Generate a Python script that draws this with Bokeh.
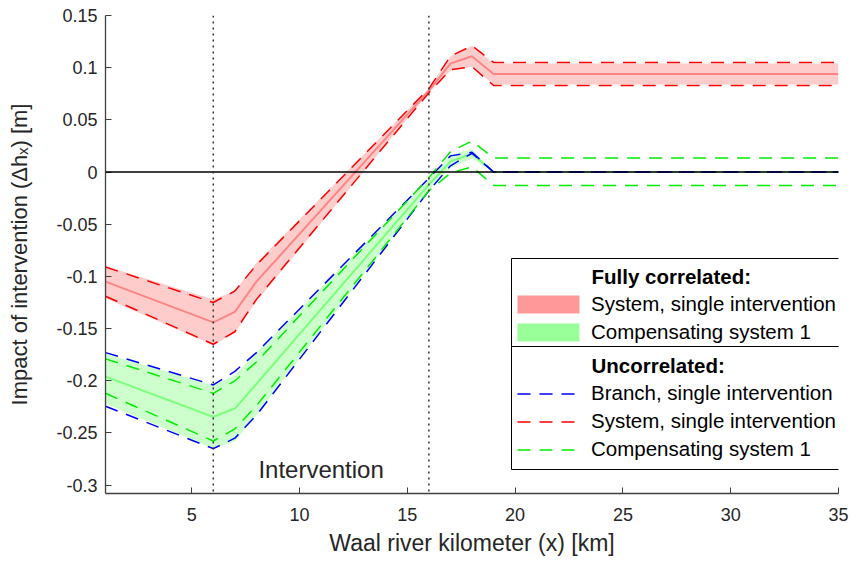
from bokeh.plotting import figure
from bokeh.embed import file_html
from bokeh.resources import INLINE
from bokeh.models import (ColumnDataSource, Range1d, FixedTicker, NumeralTickFormatter,
                          Span, Label, BoxAnnotation, Legend, LegendItem)

# ---------------- data ----------------
km = [1, 6, 7, 8, 16, 17, 18, 19, 35]

# System, single intervention (red)
sys_mean   = [-0.105, -0.144, -0.134, -0.105, 0.078, 0.104, 0.111, 0.094, 0.094]
sys_fc_lo  = [-0.121, -0.166, -0.154, -0.124, 0.076, 0.097, 0.101, 0.084, 0.084]
sys_fc_hi  = [-0.090, -0.122, -0.114, -0.087, 0.080, 0.111, 0.121, 0.104, 0.104]
sys_unc_lo = [-0.119, -0.165, -0.153, -0.122, 0.076, 0.098, 0.101, 0.083, 0.083]
sys_unc_hi = [-0.091, -0.125, -0.114, -0.089, 0.080, 0.111, 0.121, 0.105, 0.105]

# Compensating system 1 (green)
comp_mean   = [-0.196, -0.2346, -0.2266, -0.203, -0.012, 0.010, 0.0175, 0.0, 0.0]
comp_fc_lo  = [-0.222, -0.265, -0.258, -0.233, -0.017, 0.004, 0.013, 0.0, 0.0]
comp_fc_hi  = [-0.174, -0.204, -0.195, -0.173, -0.007, 0.016, 0.022, 0.0, 0.0]
comp_unc_lo = [-0.212, -0.2577, -0.246, -0.224, -0.018, -0.001, 0.005, -0.0128, -0.0128]
comp_unc_hi = [-0.179, -0.212, -0.200, -0.182, -0.0055, 0.0195, 0.0298, 0.0135, 0.0135]

# Branch, single intervention (blue, uncorrelated)
branch_unc_lo = [-0.2244, -0.265, -0.255, -0.233, -0.018, 0.006, 0.018, 0.0, 0.0]
branch_unc_hi = [-0.173, -0.204, -0.191, -0.173, -0.006, 0.0155, 0.019, 0.0, 0.0]

intervention_km = [6, 16]
x_ticks = [5, 10, 15, 20, 25, 30, 35]
y_ticks = [-0.3, -0.25, -0.2, -0.15, -0.1, -0.05, 0, 0.05, 0.1, 0.15]

src = ColumnDataSource(dict(
    km=km, sys_mean=sys_mean, sys_fc_lo=sys_fc_lo, sys_fc_hi=sys_fc_hi,
    sys_unc_lo=sys_unc_lo, sys_unc_hi=sys_unc_hi,
    comp_mean=comp_mean, comp_fc_lo=comp_fc_lo, comp_fc_hi=comp_fc_hi,
    comp_unc_lo=comp_unc_lo, comp_unc_hi=comp_unc_hi,
    branch_unc_lo=branch_unc_lo, branch_unc_hi=branch_unc_hi,
))

FONT = "Liberation Sans"
TXT = "#262626"

p = figure(width=852, height=561, x_range=Range1d(1, 35), y_range=Range1d(-0.308, 0.15),
           output_backend="svg", toolbar_location=None,
           min_border_left=105, min_border_right=14, min_border_top=15, min_border_bottom=68)
p.xgrid.visible = False
p.ygrid.visible = False
p.outline_line_color = None
p.background_fill_color = "white"

for ax in (p.xaxis[0], p.yaxis[0]):
    ax.axis_line_color = "#404040"
    ax.axis_line_width = 1.3
    ax.major_tick_line_color = "#404040"
    ax.major_tick_in = 6
    ax.major_tick_out = 0
    ax.minor_tick_line_color = None
    ax.major_label_text_font = FONT
    ax.major_label_text_font_size = "18px"
    ax.major_label_text_color = TXT
    ax.axis_label_text_font = FONT
    ax.axis_label_text_font_style = "normal"
    ax.axis_label_text_color = TXT

p.xaxis.axis_label_text_font_size = "23px"
p.yaxis.axis_label_text_font_size = "22px"
p.xaxis.ticker = FixedTicker(ticks=x_ticks)
p.yaxis.ticker = FixedTicker(ticks=y_ticks)
p.yaxis.formatter = NumeralTickFormatter(format="0.[00]")
p.xaxis.axis_label = "Waal river kilometer (x) [km]"
p.yaxis.axis_label = "Impact of intervention (\u0394h\u2093) [m]"
p.xaxis.major_label_standoff = 14
p.xaxis.axis_label_standoff = 6
p.yaxis.major_label_standoff = 8
p.yaxis.axis_label_standoff = 21

# fully correlated bands
p.varea(x="km", y1="sys_fc_lo", y2="sys_fc_hi", source=src, fill_color="#ff0000", fill_alpha=0.2)
p.varea(x="km", y1="comp_fc_lo", y2="comp_fc_hi", source=src, fill_color="#00ff00", fill_alpha=0.2)
p.line(x="km", y="sys_mean", source=src, line_color="#ff0000", line_alpha=0.35, line_width=2)
p.line(x="km", y="comp_mean", source=src, line_color="#00ff00", line_alpha=0.4, line_width=2)

DASH = "13 9"
blue_hi = p.line(x="km", y="branch_unc_hi", source=src, line_color="#0000ff", line_width=1.5, line_dash=DASH)
p.line(x="km", y="branch_unc_lo", source=src, line_color="#0000ff", line_width=1.5, line_dash=DASH)
red_hi = p.line(x="km", y="sys_unc_hi", source=src, line_color="#ff0000", line_width=1.5, line_dash=DASH)
p.line(x="km", y="sys_unc_lo", source=src, line_color="#ff0000", line_width=1.5, line_dash=DASH)
green_hi = p.line(x="km", y="comp_unc_hi", source=src, line_color="#00ee00", line_width=1.5, line_dash=DASH)
p.line(x="km", y="comp_unc_lo", source=src, line_color="#00ee00", line_width=1.5, line_dash=DASH)

# legend-only placeholders (swatches drawn as boxes below)
sw_red = p.varea(x=[], y1=[], y2=[], fill_color="#ff0000", fill_alpha=0.4)
sw_green = p.varea(x=[], y1=[], y2=[], fill_color="#00ff00", fill_alpha=0.4)

# reference lines
p.add_layout(Span(location=0, dimension="width", line_color="black", line_width=1.5))
for xk in intervention_km:
    p.add_layout(Span(location=xk, dimension="height", line_color="#333333",
                      line_width=1.5, line_dash="2 4"))

p.add_layout(Label(x=sum(intervention_km) / 2, y=-0.285, text="Intervention",
                   text_align="center", text_baseline="middle",
                   text_font=FONT, text_font_size="24px", text_color=TXT))

# legend frame
for top, bottom in ((235, 147), (147, 24)):
    p.add_layout(BoxAnnotation(left=406, right=741, top=top, bottom=bottom,
                               left_units="screen", right_units="screen",
                               top_units="screen", bottom_units="screen",
                               fill_color="white", fill_alpha=1.0,
                               line_color="black", line_alpha=1.0, line_width=1))
# filled swatches for the fully correlated bands
for top, bottom, col in ((198, 180, "#ff0000"), (170, 152, "#00ff00")):
    p.add_layout(BoxAnnotation(left=412, right=474, top=top, bottom=bottom,
                               left_units="screen", right_units="screen",
                               top_units="screen", bottom_units="screen",
                               fill_color=col, fill_alpha=0.4, line_alpha=0))

leg_style = dict(glyph_width=62, glyph_height=17, label_height=28, spacing=0, padding=0,
                 margin=0, label_standoff=12, label_text_font=FONT,
                 label_text_font_size="20.5px", label_text_color="black",
                 border_line_alpha=0, background_fill_alpha=0)

legA = Legend(items=[LegendItem(label="System, single intervention", renderers=[sw_red]),
                     LegendItem(label="Compensating system 1", renderers=[sw_green])],
              location=(412, 147), **leg_style)
legB = Legend(items=[LegendItem(label="Branch, single intervention", renderers=[blue_hi]),
                     LegendItem(label="System, single intervention", renderers=[red_hi]),
                     LegendItem(label="Compensating system 1", renderers=[green_hi])],
              location=(412, 30), **leg_style)
p.add_layout(legA, "center")
p.add_layout(legB, "center")

for ytxt, t in ((217, "Fully correlated:"), (128, "Uncorrelated:")):
    p.add_layout(Label(x=486, y=ytxt, x_units="screen", y_units="screen", text=t,
                       text_font=FONT, text_font_size="20.5px", text_font_style="bold",
                       text_baseline="middle", text_color="black"))

open("out.html", "w").write(file_html(p, INLINE))
